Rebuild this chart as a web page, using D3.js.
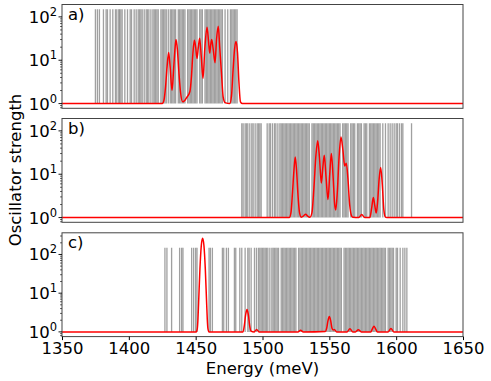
<!DOCTYPE html>
<meta charset="utf-8">
<style>
  body { margin: 0; background: #fff; }
  text { font-family: "DejaVu Sans", sans-serif; fill: #000; }
  .frame { fill: none; stroke: #444; stroke-width: 1; }
  .spec { fill: none; stroke: red; stroke-width: 1.5; }
  .stick { stroke: #808080; stroke-opacity: 0.75; stroke-width: 1.3; }
</style>
<body>
<script src="https://d3js.org/d3.v7.min.js"></script>
<script>

  // panel labels and axis ticks
  var panelLabels = ["a)", "b)", "c)"];
  var xTicks = [1350, 1400, 1450, 1500, 1550, 1600, 1650];
  var yMajor = [1, 10, 100];
  var stickTop = 150;

  // transition energies (meV), one list per panel
  var sticksA = [1375, 1376.5, 1378, 1381, 1383, 1384, 1386, 1388, 1390, 1391, 1392.5, 1393, 1394, 1395,
    1397, 1399, 1401, 1402, 1404, 1405.5, 1407, 1408, 1409, 1410, 1411.5, 1413, 1414, 1415, 1416.5,
    1418, 1419, 1420, 1421, 1422, 1424, 1425, 1426, 1427, 1428, 1429.5, 1431, 1432, 1433, 1434, 1435,
    1437, 1438, 1439, 1440, 1441, 1442, 1444, 1445, 1446, 1447, 1448, 1449, 1450, 1451, 1453, 1454,
    1455, 1457, 1458, 1459, 1460, 1461, 1462, 1463, 1464, 1465, 1466, 1467, 1468, 1469, 1470, 1472,
    1474, 1476, 1477, 1478, 1479, 1480, 1481];
  var sticksB = [1484.5, 1485.5, 1487, 1488, 1489, 1490.5, 1492, 1493, 1494.5, 1496, 1497, 1498, 1499,
    1503.5, 1505, 1506, 1507.5, 1509, 1510, 1511.5, 1513, 1514, 1515, 1516, 1517, 1518, 1519, 1520,
    1521, 1522, 1523, 1524, 1525, 1526, 1527, 1528, 1529, 1530, 1531, 1532, 1533, 1534, 1535, 1537,
    1538, 1539, 1540, 1541, 1542, 1543, 1544, 1545, 1546, 1547, 1548, 1549, 1550, 1551, 1552, 1553,
    1554, 1555, 1556, 1557, 1558, 1560, 1561, 1562, 1563, 1564, 1566, 1567, 1568, 1569, 1571, 1572,
    1573, 1574, 1576, 1577, 1578, 1580, 1581, 1582, 1583, 1584, 1585, 1586, 1587, 1588, 1590, 1592,
    1594, 1595.5, 1597, 1598.5, 1600, 1601, 1602.5, 1604, 1605, 1611.5];
  var sticksC = [1427, 1428.5, 1432, 1438, 1439.5, 1440.5, 1447, 1448.5, 1450, 1451, 1460, 1461, 1462.5,
    1470, 1471, 1473, 1474.5, 1479, 1480, 1483, 1484.5, 1487, 1489, 1490, 1491.5, 1494, 1495.5, 1497,
    1498, 1499, 1500, 1501, 1502, 1503, 1504, 1505.5, 1507, 1508, 1509, 1510, 1511, 1512, 1514, 1515,
    1516, 1517, 1518, 1519, 1520, 1521, 1522, 1523, 1524, 1525, 1527, 1528, 1529, 1530, 1531, 1532,
    1533, 1534, 1535, 1536, 1537, 1538, 1539, 1540, 1541, 1542, 1543, 1544, 1545, 1546, 1547, 1548,
    1549, 1550, 1551, 1552, 1553, 1554, 1555, 1556, 1557, 1558, 1559, 1561, 1562, 1563, 1564, 1565,
    1566, 1567, 1568, 1569, 1570, 1571, 1572, 1573, 1574, 1575, 1576, 1577, 1578, 1579, 1580, 1581,
    1582, 1583, 1584, 1585, 1586, 1587, 1588, 1589, 1590, 1591, 1592, 1594, 1595, 1596, 1597, 1598,
    1600, 1601, 1603, 1605, 1606.5, 1608];

  // broadened spectra, [energy, strength]
  var specA = [[1350, 1], [1425, 1], [1426.3, 1.2], [1427.5, 2.5], [1428.6, 7], [1429.8, 15], [1430.9, 7],
    [1432.3, 2], [1433.6, 7], [1434.5, 18], [1435.3, 30], [1436.3, 18], [1437.5, 5], [1438.7, 1.8],
    [1440.3, 1.1], [1442, 1.2], [1443.3, 1.38], [1445.7, 1.9], [1446.8, 4], [1447.9, 14], [1449, 29],
    [1450, 20], [1451, 11], [1452, 20], [1453, 32], [1454.2, 12], [1455.5, 3.8], [1456.8, 18],
    [1458.5, 58], [1459.6, 28], [1460.5, 14.6], [1461.2, 22], [1462, 30], [1463.2, 17], [1464.5, 8.8],
    [1465.6, 30], [1466.9, 61], [1468, 20], [1469.4, 4.5], [1470.6, 1.4], [1472, 1.05], [1475.5, 1],
    [1476.8, 1.5], [1478, 6], [1479.1, 18], [1480.2, 27], [1481.3, 15], [1482.4, 3], [1483.5, 1.1],
    [1485, 1], [1650, 1]];
  var specB = [[1350, 1], [1520, 1], [1521.3, 1.3], [1522.5, 4], [1523.5, 12], [1524.5, 25], [1525.5, 12],
    [1526.5, 3.5], [1527.7, 1.3], [1529, 1.02], [1530.8, 1.1], [1532.3, 1.2], [1533.8, 1.08],
    [1535.5, 1.02], [1537, 1.3], [1538.5, 5], [1540, 28], [1541.3, 59], [1542.6, 25], [1544, 6.3],
    [1545.2, 15], [1546.2, 27.5], [1547.5, 9], [1549, 2.6], [1550.3, 10], [1551.5, 30], [1552.8, 9],
    [1554, 2], [1554.8, 1.5], [1556, 4], [1557.3, 25], [1558.7, 72], [1560.2, 35], [1561.5, 15.5],
    [1562.7, 18], [1563.9, 8], [1565.2, 2], [1566.4, 1.15], [1567.5, 1.02], [1572, 1], [1574.2, 1.17],
    [1576.5, 1], [1580.3, 1], [1581.6, 1.6], [1582.9, 2.9], [1584, 1.9], [1585.1, 1.27], [1586.2, 2.5],
    [1587.3, 8], [1588.4, 14.3], [1589.6, 6], [1590.8, 1.5], [1592, 1.02], [1593, 1], [1650, 1]];
  var specC = [[1350, 1], [1450.4, 1], [1451.2, 1.2], [1451.7, 2.1], [1452.2, 5.6], [1453.2, 43],
    [1454.2, 168], [1455.2, 263], [1456.2, 168], [1457.2, 43], [1458.2, 5.6], [1458.7, 2.1],
    [1459.2, 1.2], [1460, 1], [1485.4, 1], [1486.4, 1.46], [1487.4, 2.78], [1488.4, 3.8], [1489.4, 2.78],
    [1490.4, 1.46], [1491.4, 1.05], [1493.8, 1], [1495.6, 1.15], [1497.4, 1], [1526.5, 1], [1528.5, 1.1],
    [1530.5, 1], [1547, 1.03], [1548, 1.24], [1549, 1.95], [1550, 2.5], [1551, 1.95], [1552, 1.24],
    [1553, 1.12], [1553.7, 1.15], [1555.5, 1], [1563.2, 1], [1565.4, 1.2], [1567.6, 1], [1569.5, 1],
    [1571.7, 1.13], [1573.9, 1], [1581, 1], [1582.2, 1.2], [1583.4, 1.4], [1584.6, 1.2], [1586, 1],
    [1594, 1], [1596.1, 1.22], [1598.2, 1], [1650, 1]];

  var panels = [
    { label: panelLabels[0], sticks: sticksA, spec: specA, top: 4.5, yDom: [0.778, 193] },
    { label: panelLabels[1], sticks: sticksB, spec: specB, top: 118.5, yDom: [0.778, 193] },
    { label: panelLabels[2], sticks: sticksC, spec: specC, top: 232.8, yDom: [0.755, 363] }
  ];

  var width = 491, height = 381;
  var left = 62, right = 463, ph = 103.8;
  var fs = 16.5;

  var svg = d3.select("body").append("svg")
    .attr("width", width)
    .attr("height", height);

  var x = d3.scaleLinear().domain([1350, 1650]).range([left, right]);

  panels.forEach(function (p, i) {
    var y = d3.scaleLog().domain(p.yDom).range([p.top + ph, p.top]);
    var g = svg.append("g");

    g.append("clipPath").attr("id", "clip" + i)
      .append("rect")
      .attr("x", left).attr("y", p.top)
      .attr("width", right - left).attr("height", ph);

    var inner = g.append("g").attr("clip-path", "url(#clip" + i + ")");

    // transitions
    inner.selectAll(".stick")
      .data(p.sticks)
      .enter().append("line")
      .attr("class", "stick")
      .attr("x1", function (d) { return x(d); })
      .attr("x2", function (d) { return x(d); })
      .attr("y1", y(1))
      .attr("y2", y(stickTop));

    // broadened spectrum
    var line = d3.line()
      .x(function (d) { return x(d[0]); })
      .y(function (d) { return y(d[1]); })
      .curve(d3.curveMonotoneX);

    inner.append("path")
      .datum(p.spec)
      .attr("class", "spec")
      .attr("d", line);

    g.append("rect")
      .attr("class", "frame")
      .attr("x", left).attr("y", p.top)
      .attr("width", right - left).attr("height", ph);

    // y ticks, major and minor
    g.selectAll(".yt")
      .data(y.ticks())
      .enter().append("line")
      .attr("x1", left)
      .attr("x2", function (d) { return yMajor.indexOf(d) >= 0 ? left - 3.5 : left - 2; })
      .attr("y1", function (d) { return y(d); })
      .attr("y2", function (d) { return y(d); })
      .attr("stroke", "#000")
      .attr("stroke-width", function (d) { return yMajor.indexOf(d) >= 0 ? 0.9 : 0.6; });

    var lab = g.selectAll(".yl")
      .data(yMajor)
      .enter().append("text")
      .attr("text-anchor", "end")
      .attr("x", 57)
      .attr("y", function (d) { return y(d) + 6; })
      .style("font-size", fs + "px");
    lab.append("tspan").text("10");
    lab.append("tspan")
      .attr("dy", -7)
      .style("font-size", "11.5px")
      .text(function (d) { return Math.round(Math.log10(d)); });

    g.append("text")
      .attr("x", 68)
      .attr("y", p.top + 15.5)
      .style("font-size", fs + "px")
      .text(p.label);

    if (i === 2) {
      var xa = g.append("g")
        .attr("transform", "translate(0," + (p.top + ph) + ")")
        .call(d3.axisBottom(x).tickValues(xTicks).tickSize(3.5).tickPadding(2).tickFormat(d3.format("d")));
      xa.select(".domain").remove();
      xa.selectAll("text").style("font-size", fs + "px").attr("font-family", null);
    }
  });

  svg.append("text")
    .attr("text-anchor", "middle")
    .attr("x", (left + right) / 2)
    .attr("y", 374)
    .style("font-size", fs + "px")
    .text("Energy (meV)");

  svg.append("text")
    .attr("text-anchor", "middle")
    .attr("transform", "translate(21,170) rotate(-90)")
    .style("font-size", fs + "px")
    .text("Oscillator strength");

</script>
</body>
